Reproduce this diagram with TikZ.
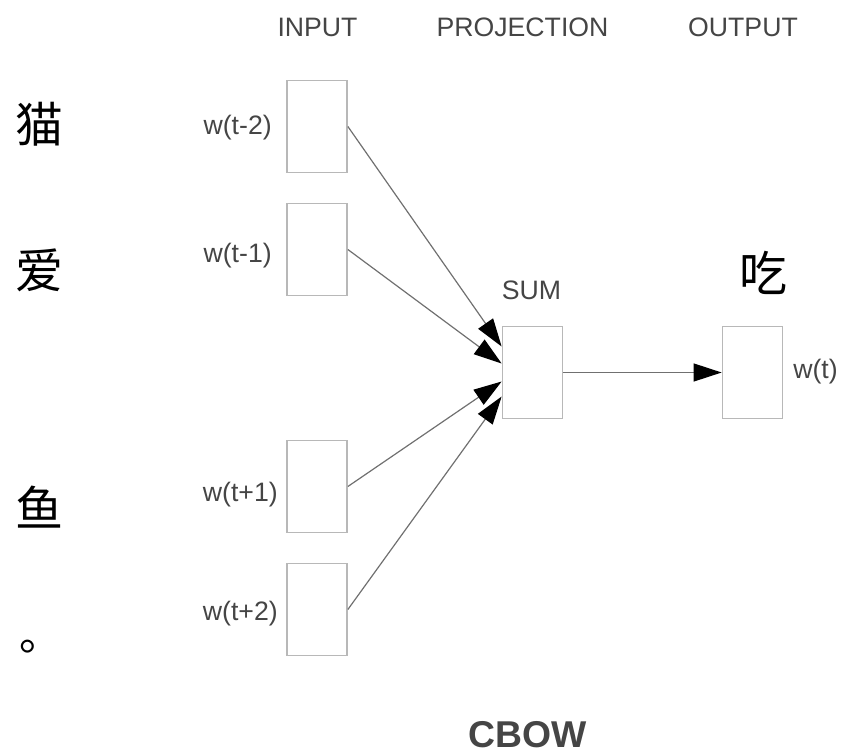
\documentclass[tikz,border=0pt]{standalone}
\usepackage{fontspec}
\setmainfont{Liberation Sans}
\newfontfamily\cjk{Noto Sans CJK SC}
\usetikzlibrary{arrows.meta,calc}

\definecolor{testo}{HTML}{454545}
\definecolor{bordo}{HTML}{B8B8B8}
\definecolor{linea}{HTML}{707070}

\begin{document}
\begin{tikzpicture}[x=0.75pt,y=-0.75pt,
    cella/.style={draw=bordo, line width=1.3pt, minimum width=45pt, minimum height=69pt, inner sep=0pt},
    hdr/.style={text=testo, font=\fontsize{20}{24}\selectfont, inner sep=0pt},
    han/.style={font=\cjk\fontsize{36}{40}\selectfont, inner sep=0pt},
    conn/.style={draw=linea, line width=0.9pt, -{Triangle[length=21pt,width=13.5pt,color=black]}}]
    \useasboundingbox (0,0) rectangle (843,756);

    % intestazioni
    \node[hdr] (hin) at (317.5,27) {INPUT};
    \node[hdr] (hproj) at (522.5,27) {PROJECTION};
    \node[hdr] (hout) at (743,27) {OUTPUT};

    % parole
    \node[han, anchor=west] (cat) at (15,124) {猫};
    \node[han, anchor=west] (love) at (15,270) {爱};
    \node[han, anchor=west] (fish) at (15,507) {鱼};
    \node[han, anchor=west, font=\cjk\fontsize{32}{36}\selectfont] (stop) at (19,647) {。};
    \node[han] (eat) at (763,273) {吃};

    % celle di ingresso
    \node[cella] (in1) at (317,126.5) {};
    \node[cella] (in2) at (317,249.5) {};
    \node[cella] (in3) at (317,486.5) {};
    \node[cella] (in4) at (317,609.5) {};

    % proiezione e uscita
    \node[cella] (sum) at (532.5,372.5) {};
    \node[cella] (out) at (752.5,372.5) {};

    % etichette
    \node[hdr, anchor=east] (l1) at (272,128) {w(t-2)};
    \node[hdr, anchor=east] (l2) at (272,256) {w(t-1)};
    \node[hdr, anchor=east] (l3) at (278,495) {w(t+1)};
    \node[hdr, anchor=east] (l4) at (278,614) {w(t+2)};
    \node[hdr] (lsum) at (531.5,290) {SUM};
    \node[hdr, anchor=west] (lout) at (793,372) {w(t)};

    % frecce
    \coordinate (s1) at ($(sum.west)+(0,-26)$);
    \coordinate (s2) at ($(sum.west)+(0,-9)$);
    \coordinate (s3) at ($(sum.west)+(0,9)$);
    \coordinate (s4) at ($(sum.west)+(0,24)$);
    \draw[conn] (in1.east) -- (s1);
    \draw[conn] (in2.east) -- (s2);
    \draw[conn] (in3.east) -- (s3);
    \draw[conn] (in4.east) -- (s4);
    \draw[conn] (sum.east) -- (out.west);

    % titolo
    \node[font=\bfseries\fontsize{28}{34}\selectfont, text=testo, inner sep=0pt] (titolo) at (527.5,735) {CBOW};
\end{tikzpicture}
\end{document}
